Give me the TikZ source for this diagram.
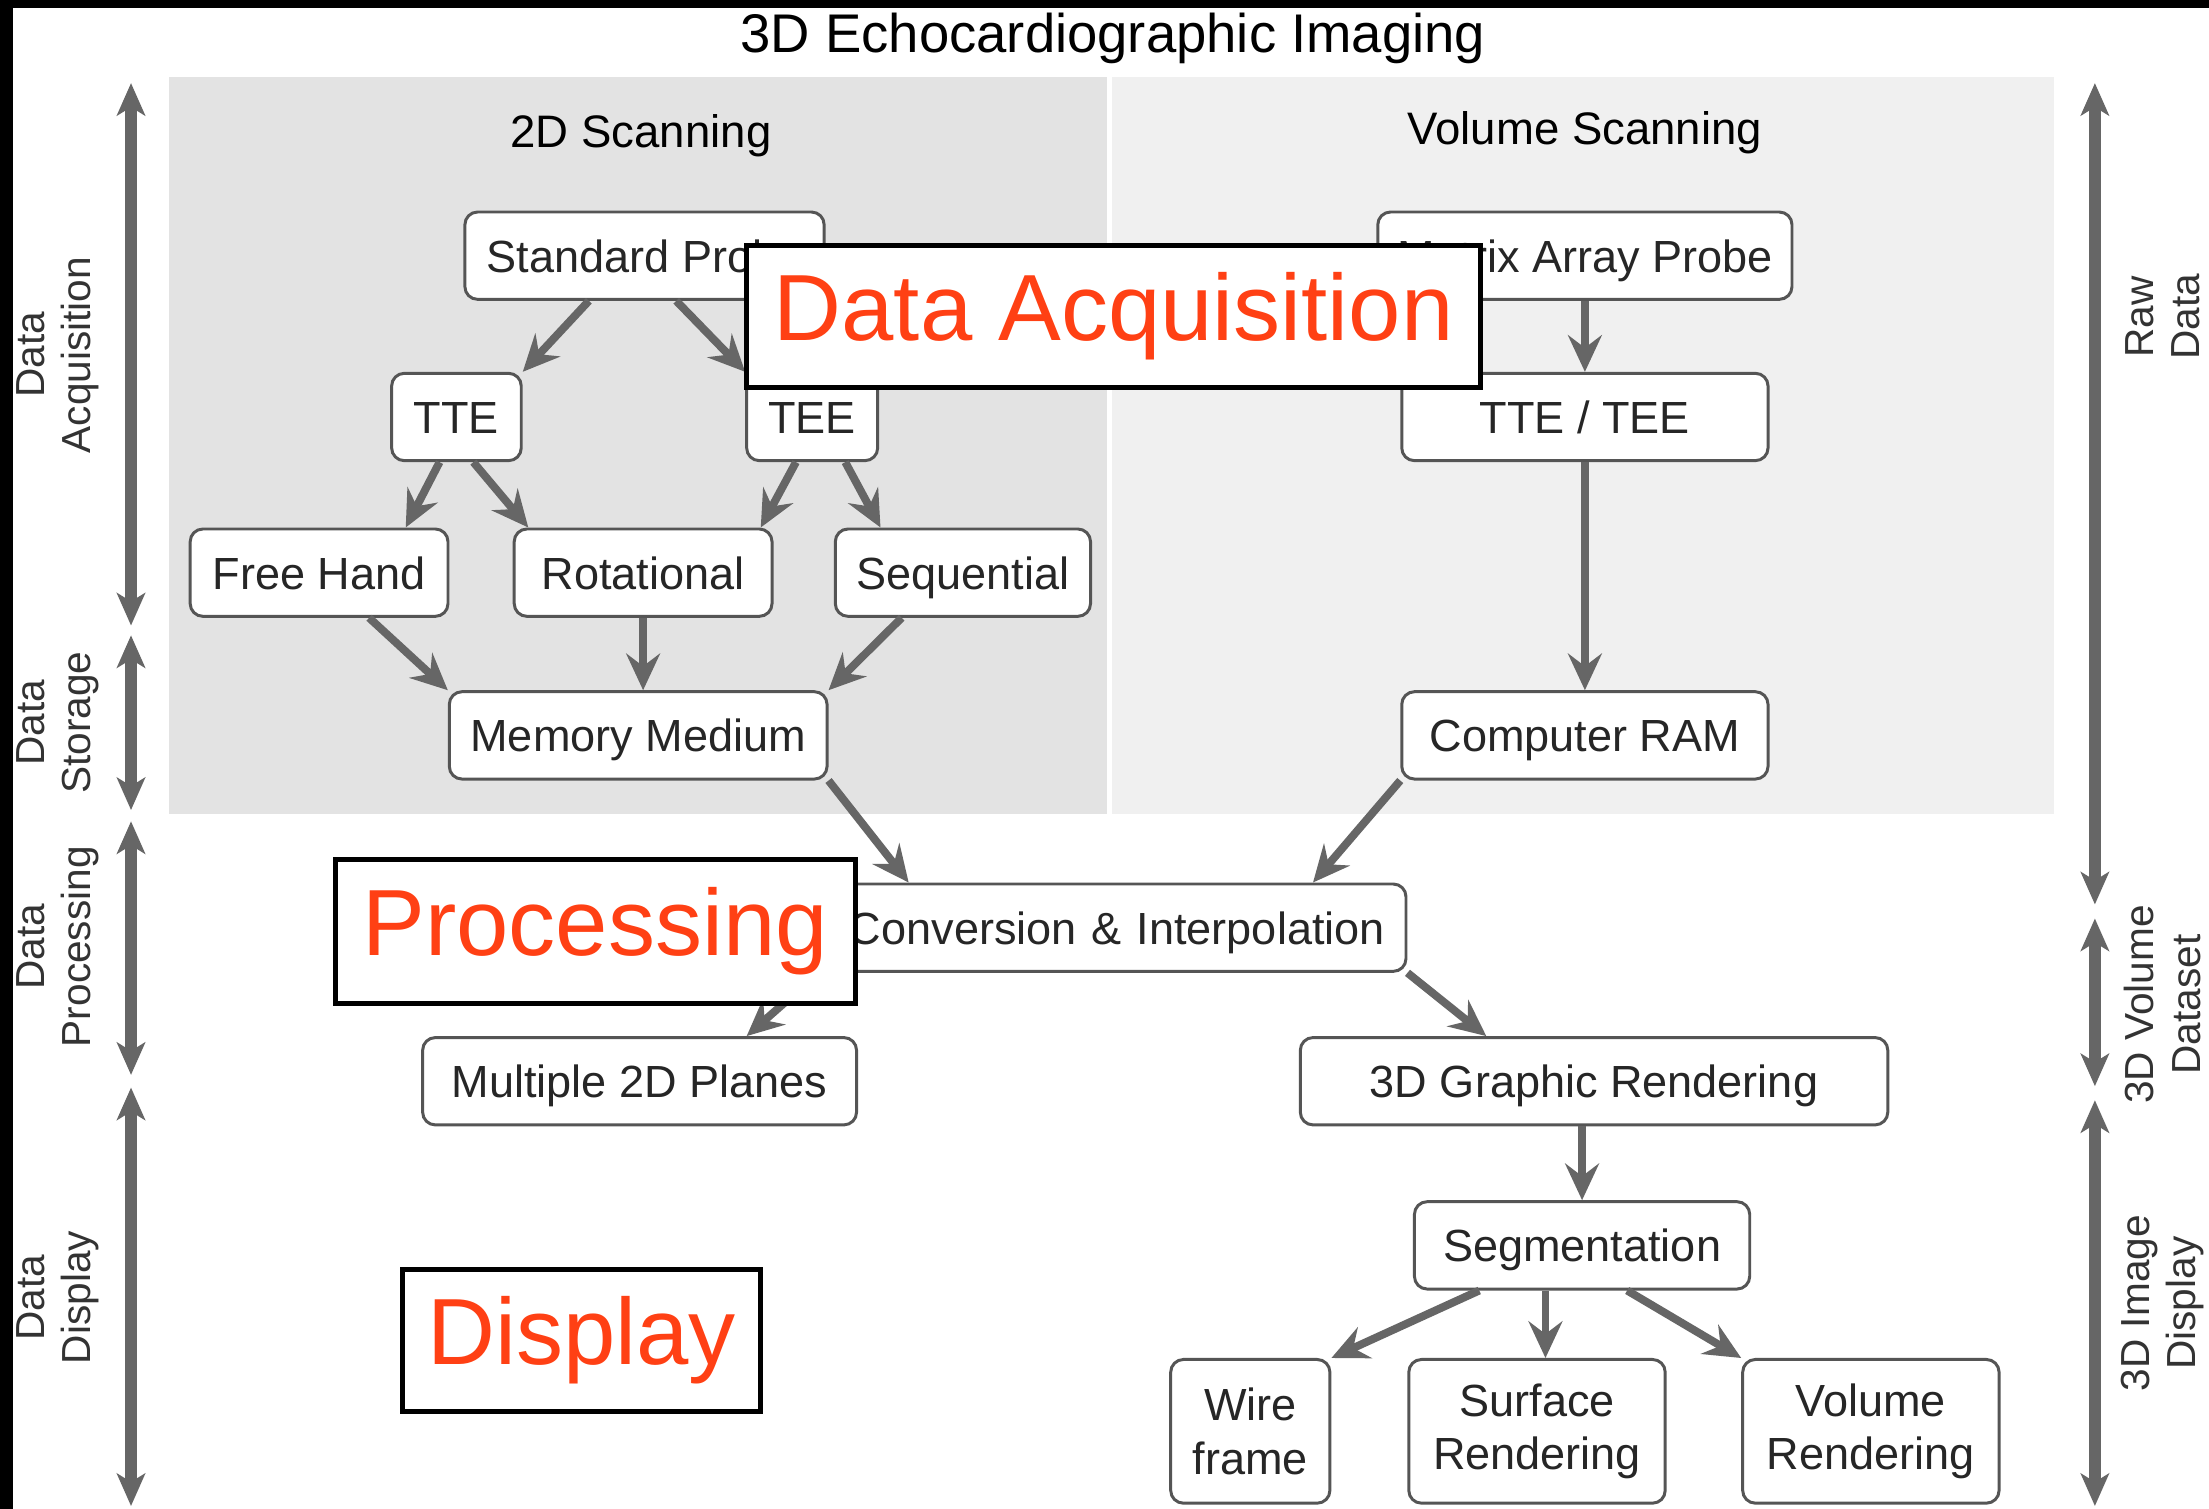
\documentclass[tikz,border=0pt]{standalone}
\usepackage{fontspec}
\setmainfont{Liberation Sans}
\usetikzlibrary{arrows.meta,calc}
\definecolor{echopanel}{RGB}{227,227,227}
\definecolor{echopanellight}{RGB}{240,240,240}
\definecolor{echoarrow}{RGB}{102,102,102}
\definecolor{echoframe}{RGB}{85,85,85}
\definecolor{echored}{RGB}{255,64,20}
\tikzset{
  echobox/.style={draw=echoframe, line width=0.6pt, fill=white, rounded corners=0.9mm,
    align=center, inner xsep=1.5mm, inner ysep=0pt, minimum height=6.2mm,
    font=\fontsize{9.1}{10.8}\selectfont, text=black!85},
  echoline/.style={echobox, text height=3mm, text depth=0.65mm},
  echoflow/.style={draw=echoarrow, line width=1.6pt,
    >={Stealth[length=2.6mm,width=2.4mm,inset=0.9mm]}, ->},
  echospan/.style={draw=echoarrow, line width=2.5pt,
    >={Stealth[length=2.3mm,width=2mm,inset=0.6mm]}, <->},
  echotag/.style={rotate=90, align=center, font=\fontsize{8.2}{9.4}\selectfont, text=black!80},
  echostamp/.style={draw=black, line width=1pt, fill=white, inner sep=0pt,
    font=\fontsize{19}{22}\selectfont, text=echored},
}

\begin{document}
\begin{tikzpicture}[x=0.1mm,y=-0.1mm]
\useasboundingbox (0,0) rectangle (1568,1071);
\fill[white] (0,0) rectangle (1568,1071);
\fill[black] (0,0) rectangle (1568,6);
\fill[black] (0,0) rectangle (9,1071);
% panneaux de fond
\fill[echopanel] (120,55) rectangle (786,578);
\fill[echopanellight] (789,55) rectangle (1458,578);

\node[font=\fontsize{11}{13}\selectfont] (title) at (790,27) {3D Echocardiographic Imaging};
\node[font=\fontsize{9.2}{11}\selectfont] (scan2d) at (455,96) {2D Scanning};
\node[font=\fontsize{9.2}{11}\selectfont] (scanvol) at (1125,94) {Volume Scanning};

% echelles laterales
\foreach \n/\x/\a/\b in {acq/93/59/444, sto/93/451/575, pro/93/583/763, dis/93/772/1069,
                          raw/1487/59/642, vox/1487/652/771, img/1487/781/1069} {
  \coordinate (\n top) at (\x,\a);
  \coordinate (\n bot) at (\x,\b);
  \draw[echospan] (\n top) -- (\n bot);
}
\node[echotag] (tagacq) at (41,252) {Data\\Acquisition};
\node[echotag] (tagsto) at (41,513) {Data\\Storage};
\node[echotag] (tagpro) at (41,672) {Data\\Processing};
\node[echotag] (tagdis) at (41,921) {Data\\Display};
\node[echotag] (tagraw) at (1535,225) {Raw\\Data};
\node[echotag] (tagvox) at (1535,713) {3D Volume\\Dataset};
\node[echotag] (tagimg) at (1535,925) {3D Image\\Display};

% boites
\node[echoline, minimum width=25.5mm] (std) at (457.5,181.5) {Standard Probe};
\node[echoline, minimum width=9.2mm] (tte) at (324,296) {TTE};
\node[echoline, minimum width=9.3mm] (tee) at (576.5,296) {TEE};
\node[echoline, minimum width=18.3mm] (free) at (226.5,406.5) {Free Hand};
\node[echoline, minimum width=18.3mm] (rot) at (456.5,406.5) {Rotational};
\node[echoline, minimum width=18.1mm] (seq) at (683.5,406.5) {Sequential};
\node[echoline, minimum width=26.4mm] (mem) at (453,522) {Memory Medium};
\node[echoline, minimum width=29.4mm, inner xsep=1.2mm] (matrix) at (1125,181.5) {Matrix Array Probe};
\node[echoline, minimum width=26mm] (ttetee) at (1125,296) {TTE / TEE};
\node[echoline, minimum width=26mm] (ram) at (1125,522) {Computer RAM};
\node[echoline, text width=41.3mm, align=right] (conv) at (776.5,658.5) {Conversion \& Interpolation};
\node[echoline, minimum width=30.8mm] (planes) at (454,767.5) {Multiple 2D Planes};
\node[echoline, minimum width=41.7mm] (render) at (1131.5,767.5) {3D Graphic Rendering};
\node[echoline, minimum width=23.8mm] (seg) at (1123,884) {Segmentation};
\node[echobox, minimum width=11.3mm, minimum height=10.2mm] (wire) at (887.5,1016) {Wire\\frame};
\node[echobox, minimum width=18.2mm, minimum height=10.2mm] (surf) at (1091,1016) {Surface\\Rendering};
\node[echobox, minimum width=18.2mm, minimum height=10.2mm] (vol) at (1328,1016) {Volume\\Rendering};

% fleches
\draw[echoflow] ([xshift=-3.95mm]std.south) -- (tte.north east);
\draw[echoflow] ([xshift=2.25mm]std.south) -- (tee.north west);
\draw[echoflow] ([xshift=-1.2mm]tte.south) -- ([xshift=6.15mm]free.north);
\draw[echoflow] ([xshift=1.2mm]tte.south) -- ([xshift=-8.15mm]rot.north);
\draw[echoflow] ([xshift=-1.15mm]tee.south) -- ([xshift=8.35mm]rot.north);
\draw[echoflow] ([xshift=2.35mm]tee.south) -- ([xshift=-5.85mm]seq.north);
\draw[echoflow] ([xshift=3.55mm]free.south) -- (mem.north west);
\draw[echoflow] (rot.south) -- (rot.south |- mem.north);
\draw[echoflow] ([xshift=-4.35mm]seq.south) -- (mem.north east);
\draw[echoflow] (mem.south east) -- ([xshift=-13.15mm]conv.north);
\draw[echoflow] (ram.south west) -- ([xshift=15.55mm]conv.north);
\draw[echoflow] (matrix) -- (ttetee);
\draw[echoflow] (ttetee) -- (ram);
\draw[echoflow] ([xshift=-19.55mm]conv.south) -- ([xshift=7.6mm]planes.north);
\draw[echoflow] (conv.south east) -- ([xshift=-7.65mm]render.north);
\draw[echoflow] (seg.north |- render.south) -- (seg.north);
\coordinate (segmid) at ([xshift=-2.6mm]seg.south);
\draw[echoflow] ([xshift=-7.3mm]seg.south) -- (wire.north east);
\draw[echoflow] (segmid) -- (segmid |- surf.north);
\draw[echoflow] ([xshift=3.2mm]seg.south) -- (vol.north west);

% etiquettes rapportees
\node[echostamp, minimum width=52.1mm, minimum height=10.1mm] (stampacq) at (790.5,224.5) {Data Acquisition};
\node[echostamp, minimum width=36.9mm, minimum height=10.2mm] (stamppro) at (422.5,661) {Processing};
\node[echostamp, minimum width=25.4mm, minimum height=10.1mm] (stampdis) at (413,951.5) {Display};
\end{tikzpicture}
\end{document}
